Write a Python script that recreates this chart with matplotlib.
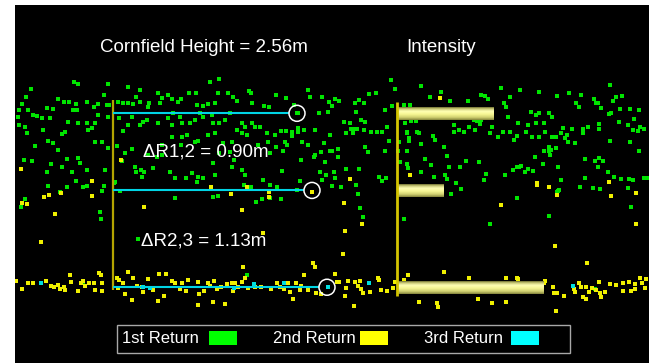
import numpy as np
import matplotlib.pyplot as plt
from matplotlib.colors import LinearSegmentedColormap
from matplotlib.patches import Rectangle

plt.rcParams['font.family'] = ['Liberation Sans', 'DejaVu Sans']

# point cloud: (shot index, range bin) for each return class
first_return = [
    (59,82),(63,84),(93,84),(204,79),(195,82),(113,87),(89,95),(125,90),(121,97),(16,89),(11,97),
    (43,99),(49,102),(54,102),(61,104),(72,102),(79,107),(83,104),(92,105),(94,105),(103,102),
    (108,103),(113,103),(118,104),(125,102),(134,103),(133,107),(143,93),(147,98),(145,103),
    (153,95),(157,99),(163,102),(166,99),(174,93),(181,93),(182,105),(188,106),(193,104),(200,103),
    (203,93),(213,93),(218,97),(222,101),(234,91),(236,93),(237,103),(249,106),(254,107),(261,95),
    (271,98),(279,105),(283,113),(293,90),(295,97),(307,97),(314,102),(304,113),(313,112),(282,113),
    (7,104),(4,110),(13,110),(18,115),(22,116),(27,118),(32,108),(38,109),(35,118),(3,117),(4,125),
    (10,127),(12,133),(28,130),(33,141),(38,143),(43,150),(47,134),(50,132),(53,122),(58,110),
    (62,110),(63,123),(72,123),(73,130),(77,128),(80,123),(80,142),(87,142),(93,148),(83,115),
    (93,117),(20,146),(9,160),(17,161),(52,159),(63,158),(36,164),(47,167),(65,163),(57,172),
    (72,170),(90,170),(32,172),(61,181),(68,187),(72,186),(89,186),(52,187),(45,192),(33,186),
    (87,191),(10,199),(6,207),(85,212),(86,219),(100,182),
    (104,118),(113,125),(117,117),(125,125),(128,122),(132,120),(143,123),(153,118),(158,113),
    (157,125),(165,117),(167,123),(175,123),(180,120),(185,113),(188,117),(197,115),(198,123),
    (204,123),(210,120),(215,113),(227,123),(230,127),(237,123),(245,127),(252,133),(260,135),
    (266,131),(271,131),(277,132),(283,128),(289,130),(300,130),(315,135),(309,143),(315,151),
    (293,145),(287,142),(270,142),(261,147),(255,153),(268,151),(286,160),(300,155),(299,157),
    (306,152),(310,162),(311,175),(305,172),(307,180),(285,181),(282,190),(267,171),(262,187),
    (255,185),(248,180),(236,187),(230,175),(229,185),(227,170),(219,160),(215,152),(217,167),
    (204,153),(198,163),(200,175),(188,178),(183,177),(182,182),(177,173),(171,178),(160,178),
    (155,172),(147,155),(142,157),(138,168),(133,155),(129,172),(127,177),(126,170),(120,167),
    (121,172),(117,149),(110,153),(108,131),(102,146),(107,161),(99,183),(105,191),(147,145),
    (157,137),(166,145),(167,137),(172,135),(180,142),(183,141),(193,135),(200,133),(208,143),
    (217,142),(222,130),(227,133),(232,135),(240,127),(243,145),(253,142),(272,145),(277,136),
    (283,132),(160,198),(198,197),(203,196),(241,202),(247,199),(255,198),(266,199),(232,275),
    (123,239),(68,282),(580,289),
    (376,80),(380,89),(406,86),(426,92),(415,97),(354,94),(361,93),(344,100),(340,103),(320,99),
    (324,101),(349,103),(317,106),(341,112),(346,120),(350,122),(329,122),(335,123),(336,129),
    (340,129),(342,129),(349,130),(356,132),(331,133),(338,133),(362,132),(367,132),(372,127),
    (370,110),(377,106),(389,105),(395,105),(435,101),(453,101),(466,95),(470,96),(473,99),
    (486,88),(495,97),(505,90),(524,92),(489,103),(491,107),(493,117),(466,120),(462,121),
    (459,120),(465,124),(460,130),(439,125),(439,132),(444,130),(449,132),(454,127),(477,127),
    (475,133),(483,137),(488,132),(495,132),(502,136),(499,140),(503,123),(513,125),(516,112),
    (521,115),(524,113),(529,123),(534,113),(537,117),(542,96),(554,93),(566,95),(561,103),
    (564,107),(579,99),(583,103),(581,103),(586,108),(595,85),(598,101),(601,97),(607,96),
    (605,109),(596,113),(594,114),(604,122),(615,109),(619,119),(624,110),(625,127),(629,129),
    (623,131),(618,130),(613,125),(584,124),(584,129),(573,127),(568,133),(568,129),(557,129),
    (552,135),(548,128),(546,133),(541,137),(537,137),(530,132),(521,123),(511,132),(517,137),
    (529,151),(534,147),(534,151),(536,150),(541,148),(553,142),(550,138),(560,143),(570,159),
    (580,161),(584,158),(588,161),(583,167),(593,172),(599,177),(606,179),(614,179),(618,180),
    (613,188),(629,178),(632,178),(624,151),(615,142),(595,141),(565,187),(578,188),(585,189),
    (570,178),(546,180),(544,190),(542,192),(543,167),(535,155),(528,164),(518,171),(513,169),
    (510,172),(504,167),(506,166),(498,170),(490,175),(471,174),(469,180),(464,162),(451,161),
    (445,167),(441,183),(436,194),(446,189),(430,175),(432,179),(434,167),(432,156),(429,147),
    (420,140),(418,136),(416,165),(410,159),(406,144),(402,132),(404,133),(396,121),(401,121),
    (390,123),(392,132),(392,133),(394,141),(384,142),(392,151),(383,151),(385,162),(392,164),
    (393,168),(406,172),(419,177),(394,138),(374,141),(370,151),(350,147),(353,152),(323,149),
    (323,157),(317,151),(331,169),(344,169),(319,172),(320,178),(326,187),(317,186),(341,185),
    (343,194),(364,177),(371,178),(367,181),(389,219),(345,208),(348,217),(475,224),(502,198),
    (534,216),(502,167),(520,157),(524,137),(543,191),(616,207),
]

second_return = [
    (106,160),(6,169),(77,181),(77,196),(46,193),(29,197),(34,195),(7,203),(12,204),(40,214),
    (26,242),(129,207),(227,210),(196,187),(216,194),(232,187),(254,192),(254,197),(248,233),
    (297,192),(1,281),(7,289),(13,283),(18,283),(31,281),(36,286),(39,287),(43,285),(45,289),
    (49,287),(50,290),(55,275),(56,282),(63,291),(66,283),(68,281),(70,286),(74,283),(79,283),
    (80,290),(84,273),(86,275),(87,283),(87,291),(102,278),(104,280),(103,288),(108,283),
    (113,272),(118,278),(122,286),(127,287),(128,292),(133,279),(138,290),(144,274),(149,296),
    (143,301),(151,274),(157,281),(160,283),(165,289),(167,283),(171,291),(173,280),(183,282),
    (184,294),(189,291),(193,283),(195,286),(199,281),(202,289),(206,287),(212,284),(217,283),
    (218,291),(220,283),(223,287),(227,282),(228,267),(230,278),(233,288),(240,287),(246,287),
    (256,289),(262,283),(265,287),(269,289),(273,283),(275,292),(278,299),(281,283),(286,286),
    (285,290),(289,275),(293,290),(298,263),(300,267),(301,293),(306,294),(210,304),(198,302),
    (183,305),(117,300),(110,294),
    (395,175),(335,179),(329,203),(347,224),(330,231),(328,254),(320,274),(425,98),(486,205),
    (522,183),(522,185),(534,187),(542,195),(540,246),(572,263),(596,196),(594,182),(621,193),
    (621,224),(322,282),(324,282),(333,281),(340,282),(345,281),(343,286),(331,288),(330,296),
    (346,289),(348,293),(355,292),(363,278),(364,280),(366,290),(372,291),(378,288),(380,282),
    (389,280),(393,275),(404,302),(422,303),(423,307),(429,272),(454,278),(463,299),(477,303),
    (491,302),(491,278),(502,278),(503,279),(530,281),(529,283),(538,287),(539,293),(542,293),
    (549,296),(559,289),(560,292),(564,283),(566,287),(568,297),(571,299),(571,287),(574,292),
    (577,288),(581,290),(584,282),(585,293),(586,297),(590,292),(595,284),(601,285),(608,283),
    (608,291),(614,282),(616,291),(620,284),(620,289),(625,278),(627,283),(631,279),(630,288),
    (339,306),(541,311),
]

third_return = [(26,283),(128,287),(135,288),(219,288),(239,284),(269,283),(313,287),
                (354,283),(558,286)]

# waveform peaks: range bin of the first return, separations in metres
BIN_M = 0.01167
r1_bin = 113.3
delta_r = [0.90, 1.13]
return_bins = [r1_bin, r1_bin + delta_r[0] / BIN_M, r1_bin + (delta_r[0] + delta_r[1]) / BIN_M]
peak_shot = [282, 297, 312]
intensity = [97, 47, 147]
canopy_height = 2.56

legend_labels = ['1st Return', '2nd Return', '3rd Return']
legend_colors = ['#00ff00', '#ffff00', '#00ffff']

fig = plt.figure(figsize=(6.49, 3.63), dpi=100, facecolor='white')
ax = fig.add_axes([15 / 649, 0, 634 / 649, 358 / 363])
ax.set_facecolor('black')
for s in ax.spines.values():
    s.set_visible(False)
ax.set_xticks([])
ax.set_yticks([])

pt_colors = ['#00e400', '#f0f000', '#00e0e0']
for pts, col in zip([first_return, second_return, third_return], pt_colors):
    xs, ys = zip(*pts)
    ax.scatter(xs, ys, s=5, marker='s', color=col, linewidths=0, zorder=2)

# range axis and return markers
AXIS_X = 98
ax.vlines(AXIS_X, 100, 290, color='#b4a400', lw=1.6, zorder=3)
ax.hlines(return_bins, AXIS_X, np.array(peak_shot) - 8, color='#00d4e4', lw=1.5, zorder=3)
ax.scatter(peak_shot, return_bins, s=133, facecolors='none', edgecolors='white',
           linewidths=1.1, zorder=4)

ax.text(189, 48, f'Cornfield Height = {canopy_height:.2f}m', color='white',
        fontsize=13.5, ha='center', va='center')
ax.text(128, 152, f'\u0394R1,2 = {delta_r[0]:.2f}m', color='white', fontsize=13.5,
        ha='left', va='center', zorder=5)
ax.text(126, 241, f'\u0394R2,3 = {delta_r[1]:.2f}m', color='white', fontsize=13.5,
        ha='left', va='center', zorder=5)

# intensity bars with a rounded, lit look
INT_X = 382
bar_h = 13
shade = LinearSegmentedColormap.from_list('rod', [
    (0.0, '#6c6c30'), (0.12, '#c4c470'), (0.32, '#ffffb4'), (0.55, '#f6f694'),
    (0.8, '#d0d070'), (1.0, '#82823c')])
grad = np.linspace(0, 1, 64).reshape(-1, 1)
for rb, val in zip(return_bins, intensity):
    ax.barh(rb, val, left=INT_X, height=bar_h, color='none', zorder=3)
    ax.imshow(grad, cmap=shade, aspect='auto', interpolation='bilinear',
              extent=[INT_X, INT_X + val, rb + bar_h / 2, rb - bar_h / 2], zorder=3)
ax.vlines(INT_X, 102, 296, color='#d4c400', lw=2, zorder=4)
ax.text(426, 48, 'Intensity', color='white', fontsize=13.5, ha='center', va='center')

# legend box: label first, then colour swatch
ax.add_patch(Rectangle((102, 325), 453, 28, fill=False, edgecolor='#a8a8a8', lw=1, zorder=5))
for i, (lab, col) in enumerate(zip(legend_labels, legend_colors)):
    x0 = 107 + i * 151
    ax.text(x0, 338.5, lab, color='white', fontsize=12, ha='left', va='center', zorder=5)
    ax.add_patch(Rectangle((x0 + 87, 331), 28, 14, facecolor=col, edgecolor='none', zorder=5))

ax.set_xlim(0, 634)
ax.set_ylim(363, 5)

fig.savefig('out.png', dpi=100, facecolor='white')
